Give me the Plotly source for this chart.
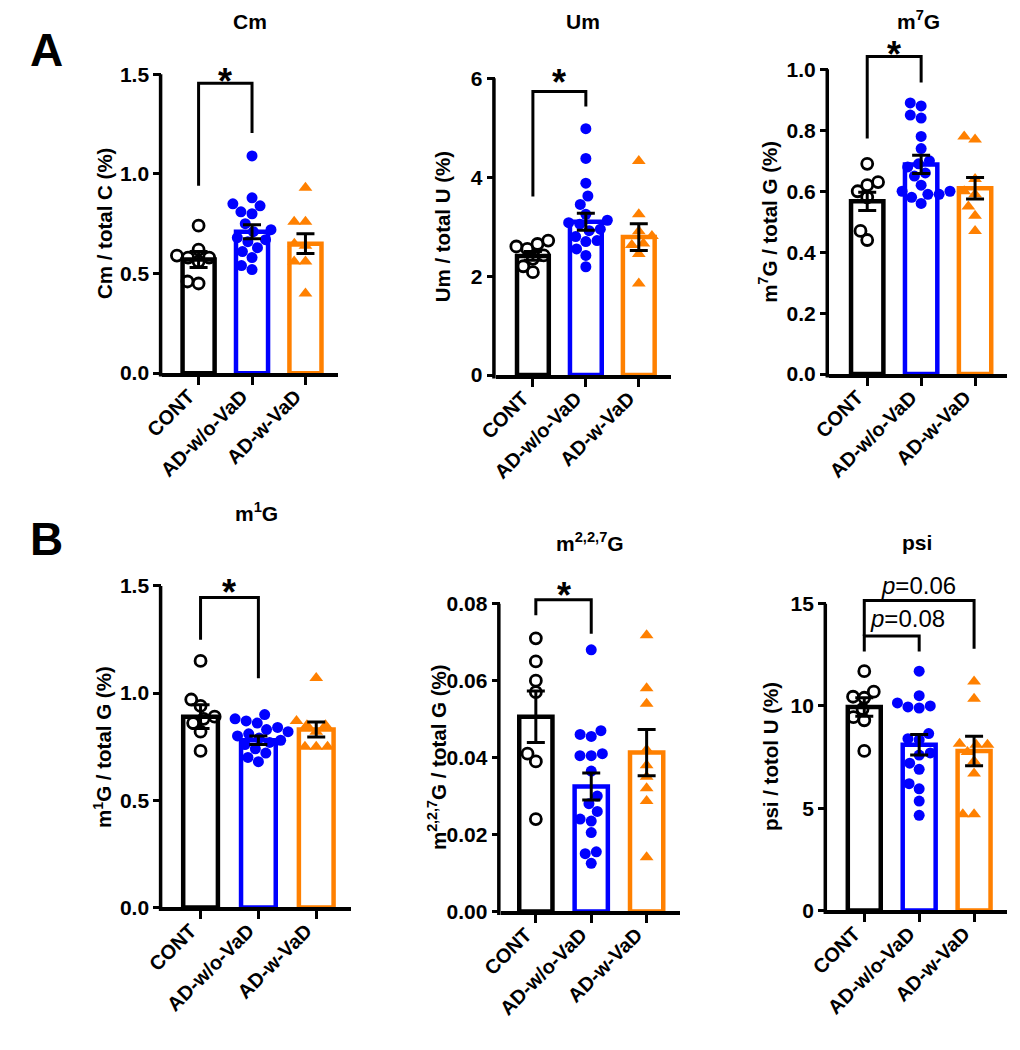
import math
import plotly.graph_objects as go

groups = ["CONT", "AD-w/o-VaD", "AD-w-VaD"]

# Cm / total C (%)
cm_cont = [0.74, 0.62, 0.59, 0.58, 0.58, 0.56, 0.46, 0.45]
cm_ad = [1.09, 0.88, 0.85, 0.84, 0.81, 0.80, 0.75, 0.72, 0.71, 0.68, 0.67, 0.66, 0.63, 0.61, 0.58, 0.54, 0.52]
cm_vad = [0.93, 0.76, 0.76, 0.65, 0.64, 0.56, 0.56, 0.40]
cm_mean = [0.57, 0.71, 0.65]
cm_sem = [0.04, 0.035, 0.05]

# Um / total U (%)
um_cont = [2.72, 2.65, 2.60, 2.55, 2.42, 2.35, 2.20, 2.08]
um_ad = [4.98, 4.38, 3.88, 3.62, 3.45, 3.25, 3.13, 3.08, 3.05, 2.95, 2.92, 2.80, 2.72, 2.70, 2.55, 2.42, 2.19]
um_vad = [4.33, 3.25, 2.91, 2.81, 2.66, 2.63, 2.45, 1.85]
um_mean = [2.41, 3.10, 2.79]
um_sem = [0.09, 0.17, 0.27]

# m7G / total G (%)
m7g_cont = [0.69, 0.63, 0.62, 0.60, 0.58, 0.47, 0.44]
m7g_ad = [0.89, 0.88, 0.85, 0.84, 0.78, 0.74, 0.70, 0.69, 0.68, 0.66, 0.65, 0.62, 0.60, 0.60, 0.59, 0.59, 0.58, 0.56]
m7g_vad = [0.78, 0.77, 0.64, 0.60, 0.59, 0.55, 0.52, 0.47]
m7g_mean = [0.567, 0.688, 0.61]
m7g_sem = [0.03, 0.03, 0.035]

# m1G / total G (%)
m1g_cont = [1.15, 0.97, 0.94, 0.89, 0.88, 0.86, 0.82, 0.73]
m1g_ad = [0.90, 0.88, 0.87, 0.86, 0.84, 0.83, 0.82, 0.81, 0.80, 0.79, 0.78, 0.77, 0.76, 0.74, 0.72, 0.70, 0.68]
m1g_vad = [1.07, 0.87, 0.85, 0.85, 0.82, 0.75, 0.75, 0.75]
m1g_mean = [0.89, 0.78, 0.83]
m1g_sem = [0.055, 0.02, 0.035]

# m2,2,7G / total G (%)
m227g_cont = [0.071, 0.065, 0.060, 0.057, 0.041, 0.039, 0.024]
m227g_ad = [0.068, 0.047, 0.046, 0.0455, 0.041, 0.0405, 0.0405, 0.0365, 0.030, 0.028, 0.026, 0.024, 0.0235, 0.0205, 0.0155, 0.015, 0.0125]
m227g_vad = [0.0718, 0.058, 0.054, 0.042, 0.038, 0.035, 0.032, 0.0287, 0.0141]
m227g_mean = [0.0506, 0.0325, 0.0413]
m227g_sem = [0.0067, 0.0035, 0.006]

# psi / total U (%)
psi_cont = [11.7, 10.7, 10.45, 10.4, 9.85, 9.45, 9.3, 7.8]
psi_ad = [11.7, 10.5, 10.15, 10.0, 9.95, 9.9, 8.65, 8.4, 8.35, 7.7, 7.6, 7.2, 6.9, 6.2, 5.95, 5.35, 4.65]
psi_vad = [11.2, 10.35, 8.15, 8.1, 8.1, 7.75, 7.3, 6.7, 4.7, 4.7]
psi_mean = [9.95, 8.1, 7.8]
psi_sem = [0.45, 0.5, 0.72]

W, H = 1020, 1050
OFF = 8  # page body margin, compensated
FONT = "Liberation Sans, Arial, sans-serif"
colors = ["black", "#0000ff", "#ff8000"]

# panel geometry in pixels + text
panels = [
    dict(title="Cm", ytitle="Cm / total C (%)", vals=[cm_cont, cm_ad, cm_vad], mean=cm_mean, sem=cm_sem,
         left=145, c0=182, sp=54.5, y0=377, ytop=75, top=55, ymax=1.5, dtick=0.5, fmt="{:.1f}", title_y=22, ytshift=-58,
         brackets=[(0, 1, 0.94, 1.205, 1.455)], stars=[(0.5, 1.515)], ptext=[]),
    dict(title="Um", ytitle="Um / total U (%)", vals=[um_cont, um_ad, um_vad], mean=um_mean, sem=um_sem,
         left=485, c0=523, sp=54, y0=379, ytop=79, top=55, ymax=6, dtick=2, fmt="{:.0f}", title_y=22, ytshift=-53,
         brackets=[(0, 1, 3.61, 5.43, 5.73)], stars=[(0.5, 6.12)], ptext=[]),
    dict(title="m<sup>7</sup>G", ytitle="m<sup>7</sup>G / total G (%)", vals=[m7g_cont, m7g_ad, m7g_vad], mean=m7g_mean, sem=m7g_sem,
         left=825, c0=864, sp=55, y0=378, ytop=70, top=30, ymax=1.0, dtick=0.2, fmt="{:.1f}", title_y=20, ytshift=-61,
         brackets=[(0, 1, 0.773, 0.957, 1.042)], stars=[(0.5, 1.08)], ptext=[]),
    dict(title="m<sup>1</sup>G", ytitle="m<sup>1</sup>G / total G (%)", vals=[m1g_cont, m1g_ad, m1g_vad], mean=m1g_mean, sem=m1g_sem,
         left=145, c0=184, sp=59, y0=917, ytop=592, top=570, ymax=1.5, dtick=0.5, fmt="{:.1f}", title_y=517, ytshift=-60,
         brackets=[(0, 1, 1.249, 1.069, 1.446)], stars=[(0.5, 1.517)], ptext=[]),
    dict(title="m<sup>2,2,7</sup>G", ytitle="m<sup>2,2,7</sup>G / total G (%)", vals=[m227g_cont, m227g_ad, m227g_vad], mean=m227g_mean, sem=m227g_sem,
         left=490, c0=526, sp=56.5, y0=921, ytop=610, top=575, ymax=0.08, dtick=0.02, fmt="{:.2f}", title_y=548, ytshift=-64,
         brackets=[(0, 1, 0.077, 0.0722, 0.081)], stars=[(0.5, 0.0847)], ptext=[]),
    dict(title="psi", ytitle="psi / totol U (%)", vals=[psi_cont, psi_ad, psi_vad], mean=psi_mean, sem=psi_sem,
         left=823, c0=861, sp=56, y0=920, ytop=610, top=575, ymax=15, dtick=5, fmt="{:.0f}", title_y=548, ytshift=-57,
         brackets=[(0, 1, 12.66, 12.66, 13.42), (0, 2, 13.42, 12.8, 15.16)], stars=[],
         ptext=[(0.78, 14.27, "<i>p</i>=0.08"), (0.98, 15.88, "<i>p</i>=0.06")]),
]


def swarm(vals, ppu, sp, diam=11.5):
    # simple beeswarm: offset each dot sideways until it no longer overlaps
    placed = []
    offs = [0.0] * len(vals)
    for i in sorted(range(len(vals)), key=lambda j: vals[j]):
        y = vals[i] * ppu
        bad = []
        for px, py in placed:
            dy = abs(py - y)
            if dy < diam:
                dx = math.sqrt(diam ** 2 - dy ** 2)
                bad.append((px - dx, px + dx))
        cands = [0.0] + [a for a, b in bad] + [b for a, b in bad]
        cands.sort(key=lambda c: (abs(c), c))
        pick = 0.0
        for c in cands:
            if all(not (a + 1e-6 < c < b - 1e-6) for a, b in bad):
                pick = c
                break
        placed.append((pick, y))
        offs[i] = pick / sp
    return offs


def px_x(v):
    return (v - OFF) / W


def px_y(v):
    return 1 - (v - OFF) / H


fig = go.Figure()
shapes = []
annotations = []
layout = {}
marker_styles = [
    dict(symbol="circle-open", size=11, color="black", line=dict(width=2.8, color="black")),
    dict(symbol="circle", size=11, color="#0000ff", line=dict(width=0)),
    dict(symbol="triangle-up", size=12, color="#ff8000", line=dict(width=0)),
]

for k, p in enumerate(panels, start=1):
    xa = "x" if k == 1 else "x%d" % k
    ya = "y" if k == 1 else "y%d" % k
    ppu = (p["y0"] - p["ytop"]) / p["ymax"]
    yhi = (p["y0"] - p["top"]) / ppu
    xlo = -(p["c0"] - p["left"]) / p["sp"]
    xhi = 2.6
    right = p["c0"] + xhi * p["sp"]
    dom_w = right - p["left"]
    dom_h = p["y0"] - p["top"]

    fig.add_trace(go.Bar(x=[0, 1, 2], y=p["mean"], width=0.6,
                         marker=dict(color="white", line=dict(color=colors, width=4.5)),
                         xaxis=xa, yaxis=ya, showlegend=False))
    for g in range(3):
        offs = swarm(p["vals"][g], ppu, p["sp"])
        fig.add_trace(go.Scatter(x=[g + o for o in offs], y=p["vals"][g], mode="markers",
                                 marker=marker_styles[g], cliponaxis=False,
                                 xaxis=xa, yaxis=ya, showlegend=False))
    fig.add_trace(go.Scatter(x=[0, 1, 2], y=p["mean"], mode="markers",
                             marker=dict(size=1, color="rgba(0,0,0,0)"),
                             error_y=dict(type="data", array=p["sem"], color="black", thickness=3, width=9),
                             xaxis=xa, yaxis=ya, showlegend=False))

    nt = int(round(p["ymax"] / p["dtick"]))
    tv = [i * p["dtick"] for i in range(nt + 1)]
    layout["xaxis" if k == 1 else "xaxis%d" % k] = dict(
        domain=[px_x(p["left"]), px_x(right)], range=[xlo, xhi], anchor=ya,
        tickvals=[0, 1, 2], ticktext=groups, tickangle=-45,
        ticks="outside", ticklen=8, tickwidth=3, tickcolor="black",
        ticklabelstandoff=-8, ticklabelshift=-10,
        showline=True, linewidth=3.5, linecolor="black", showgrid=False, zeroline=False,
        tickfont=dict(family=FONT, size=20, color="black", weight="bold"))
    layout["yaxis" if k == 1 else "yaxis%d" % k] = dict(
        domain=[px_y(p["y0"]), px_y(p["top"])], range=[0, yhi], anchor=xa,
        tickvals=tv, ticktext=[p["fmt"].format(v) for v in tv],
        ticks="outside", ticklen=8, tickwidth=3, tickcolor="black",
        showline=False, showgrid=False, zeroline=False,
        tickfont=dict(family=FONT, size=21, color="black", weight="bold"))

    # y axis line only up to the last tick
    shapes.append(dict(type="line", xref=xa + " domain", yref=ya + " domain",
                       x0=-1.75 / dom_w, x1=-1.75 / dom_w, y0=-3.5 / dom_h, y1=p["ymax"] / yhi,
                       line=dict(color="black", width=3.5)))
    for x0, x1, yl, yr, yt in p["brackets"]:
        shapes.append(dict(type="path", xref=xa, yref=ya,
                           path="M %g,%g L %g,%g L %g,%g L %g,%g" % (x0, yl, x0, yt, x1, yt, x1, yr),
                           line=dict(color="black", width=3)))
    for sx, sy in p["stars"]:
        annotations.append(dict(xref=xa, yref=ya, x=sx, y=sy, text="*", showarrow=False,
                                yanchor="middle", yshift=-10,
                                font=dict(family=FONT, size=36, color="black", weight="bold")))
    for tx, ty, tt in p["ptext"]:
        annotations.append(dict(xref=xa, yref=ya, x=tx, y=ty, text=tt, showarrow=False,
                                yanchor="middle", font=dict(family=FONT, size=24, color="black")))
    annotations.append(dict(xref=xa + " domain", yref="paper", x=0.5, y=px_y(p["title_y"]),
                            text=p["title"], showarrow=False, yanchor="middle",
                            font=dict(family=FONT, size=21, color="black", weight="bold")))
    annotations.append(dict(xref=xa + " domain", yref=ya, x=0, y=p["ymax"] / 2, xshift=p["ytshift"],
                            text=p["ytitle"], showarrow=False, textangle=-90,
                            xanchor="center", yanchor="middle",
                            font=dict(family=FONT, size=20.5, color="black", weight="bold")))

for letter, ly in [("A", 50), ("B", 545)]:
    annotations.append(dict(xref="paper", yref="paper", x=px_x(27), y=px_y(ly), text=letter,
                            showarrow=False, xanchor="center", yanchor="middle",
                            font=dict(family=FONT, size=46, color="black", weight="bold")))

fig.update_layout(width=W, height=H, margin=dict(l=0, r=0, t=0, b=0),
                  plot_bgcolor="white", paper_bgcolor="white", barmode="overlay",
                  shapes=shapes, annotations=annotations, **layout)
fig.write_html("out.html")
